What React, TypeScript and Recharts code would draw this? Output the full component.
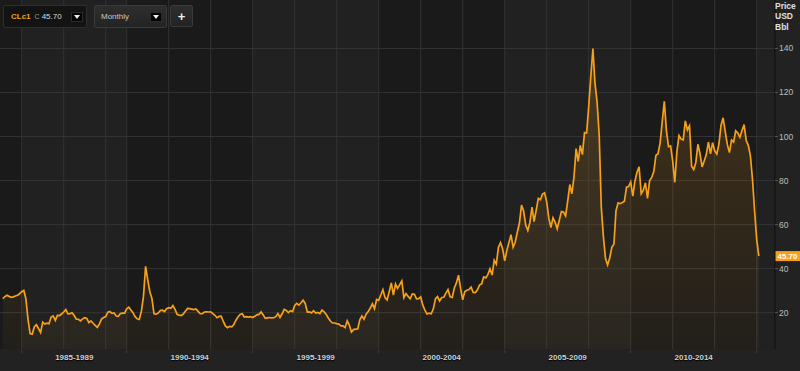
import React from 'react';
import { ComposedChart, Area, XAxis, YAxis, CartesianGrid, ReferenceLine } from 'recharts';

// CLc1 monthly closes, USD/bbl, one point per month (Jan 1985 .. Jan 2015)
const closes1985_1989 = [
  26.4, 27.3, 27.9, 27.4, 27.0, 27.2, 27.6, 27.9, 28.6, 29.5, 30.1, 26.3,
  17.0, 10.5, 10.2, 13.5, 14.5, 12.8, 11.0, 15.7, 14.8, 15.2, 15.0, 18.0,
  18.5, 16.5, 18.8, 18.7, 19.4, 20.3, 21.4, 19.5, 19.6, 20.0, 18.7, 17.0,
  17.0, 16.3, 17.2, 17.7, 17.4, 15.5, 16.3, 15.2, 14.2, 13.3, 14.9, 17.1,
  17.8, 18.2, 20.2, 20.5, 19.7, 19.9, 18.5, 18.3, 19.6, 19.8, 19.8, 21.8,
];
const closes1990_1994 = [
  22.5, 21.2, 20.0, 18.2, 17.2, 16.9, 20.7, 27.5, 41.0, 35.0, 29.5, 26.5,
  19.5, 19.3, 19.8, 21.0, 21.1, 20.5, 21.8, 22.3, 22.0, 23.2, 21.5, 19.2,
  18.9, 18.7, 19.4, 20.8, 21.9, 21.8, 21.6, 21.4, 21.7, 20.6, 19.5, 19.5,
  20.3, 20.4, 20.3, 20.4, 19.6, 18.8, 17.7, 18.3, 18.4, 16.0, 14.0, 13.2,
  13.8, 13.6, 14.6, 16.6, 18.0, 19.2, 19.5, 18.0, 18.2, 18.0, 18.2, 17.8,
];
const closes1995_1999 = [
  18.4, 19.0, 19.2, 20.3, 18.9, 17.4, 17.6, 17.8, 17.6, 17.7, 18.2, 19.6,
  17.8, 19.5, 21.5, 21.0, 20.0, 20.9, 20.5, 23.3, 24.2, 23.4, 24.5, 25.7,
  24.2, 20.3, 20.4, 19.9, 20.9, 19.8, 20.1, 19.6, 21.2, 20.4, 19.2, 17.6,
  16.2, 15.3, 15.3, 15.0, 14.8, 14.0, 14.0, 13.2, 16.3, 14.4, 11.2, 12.3,
  12.5, 12.6, 16.8, 18.5, 17.0, 19.3, 20.5, 22.1, 24.0, 21.8, 26.0, 25.6,
];
const closes2000_2004 = [
  28.0, 30.4, 26.9, 25.8, 29.5, 33.5, 28.0, 33.0, 31.0, 32.7, 34.4, 26.8,
  28.7, 27.4, 26.3, 28.5, 28.4, 26.3, 26.4, 27.2, 23.4, 21.2, 19.4, 19.8,
  19.5, 21.7, 26.3, 27.3, 25.3, 26.9, 27.0, 28.9, 30.5, 27.2, 26.9, 31.2,
  33.5, 37.0, 31.0, 25.8, 29.6, 30.2, 30.5, 31.6, 29.2, 29.1, 30.4, 32.5,
  33.1, 36.2, 35.8, 37.4, 39.9, 37.1, 43.8, 42.1, 49.6, 51.8, 49.1, 43.5,
];
const closes2005_2009 = [
  48.2, 51.8, 55.4, 49.7, 52.0, 56.5, 60.6, 68.9, 66.2, 59.8, 57.3, 61.0,
  67.9, 61.4, 66.6, 71.9, 71.3, 73.9, 74.4, 70.3, 62.9, 58.7, 63.1, 61.1,
  58.1, 62.0, 65.9, 65.7, 64.0, 70.7, 78.2, 74.0, 81.7, 94.5, 88.7, 96.0,
  91.8, 101.8, 101.6, 113.5, 127.4, 140.0, 124.1, 115.5, 100.6, 67.8, 54.4, 44.6,
  41.7, 44.8, 49.7, 51.1, 66.3, 69.9, 69.5, 70.0, 70.6, 77.0, 77.3, 79.4,
];
const closes2010_2015 = [
  72.9, 79.7, 83.8, 86.2, 74.0, 75.6, 79.0, 71.9, 80.0, 81.4, 84.1, 91.4,
  92.2, 97.0, 106.7, 116.0, 102.7, 95.4, 95.7, 88.8, 79.2, 93.2, 100.4, 98.8,
  98.5, 107.1, 103.0, 104.9, 86.5, 85.0, 88.1, 96.5, 92.2, 86.2, 88.9, 91.8,
  97.5, 92.1, 97.2, 93.5, 92.0, 96.6, 105.0, 108.5, 102.3, 96.4, 92.7, 98.4,
  97.5, 102.6, 101.6, 99.7, 102.7, 105.4, 98.2, 96.0, 91.2, 80.5, 66.2, 53.3,
  45.7,
];

const firstYear = 1985;
const lastClose = 45.7;

const bucketLabels = ['1985-1989', '1990-1994', '1995-1999', '2000-2004', '2005-2009', '2010-2014'];
const bucketCenters = [1987.92, 1992.5, 1997.5, 2002.5, 2007.5, 2012.5];
const bucketMarks = [1985.833, 1990, 1995, 2000, 2005, 2010, 2015];
const gridYears = [
  1985.833, 1987.5, 1989.167,
  1990, 1991.667, 1993.333, 1995, 1996.667, 1998.333, 2000, 2001.667, 2003.333,
  2005, 2006.667, 2008.333, 2010, 2011.667, 2013.333, 2015,
];
const priceTicks = [20, 40, 60, 80, 100, 120, 140];

const closes = [
  ...closes1985_1989, ...closes1990_1994, ...closes1995_1999,
  ...closes2000_2004, ...closes2005_2009, ...closes2010_2015,
];
// each monthly close sits at the end of its month
const data = closes.map((v, i) => ({ t: firstYear + (i + 1) / 12, close: v }));

const ORANGE = '#f7a01a';
const FONT = 'Arial, "Liberation Sans", sans-serif';

const XTick = (props: any) => {
  const { x, y, payload } = props;
  const idx = bucketCenters.indexOf(payload.value);
  if (idx >= 0) {
    return (
      <text x={x} y={y + 8.5} textAnchor="middle" dominantBaseline="central"
        fill="#cfcfcf" fontSize={8} fontWeight="bold" fontFamily={FONT}
        style={{ textShadow: '0 1px 1px #000' }}>
        {bucketLabels[idx]}
      </text>
    );
  }
  return <line x1={x} x2={x} y1={y + 1} y2={y + 4} stroke="#3c3c3c" />;
};

const PriceTag = (props: any) => {
  const vb = props.viewBox;
  if (!vb) return null;
  const left = vb.x + vb.width;
  return (
    <g>
      <rect x={left} y={vb.y - 5} width={25} height={10} fill={ORANGE} />
      <text x={left + 12.5} y={vb.y + 0.5} textAnchor="middle" dominantBaseline="central"
        fill="#fff" fontSize={8} fontWeight="bold" fontFamily={FONT}>
        {lastClose.toFixed(2)}
      </text>
    </g>
  );
};

const Caret = () => (
  <div style={{ width: 12, height: 10, background: '#050505', border: '1px solid #2a2a2a', display: 'flex', alignItems: 'center', justifyContent: 'center', boxSizing: 'border-box' }}>
    <div style={{ width: 0, height: 0, borderLeft: '3px solid transparent', borderRight: '3px solid transparent', borderTop: '4px solid #eee' }} />
  </div>
);

export default function App() {
  return (
    <div style={{ position: 'absolute', left: 0, top: 0, width: 800, height: 371, background: '#222', fontFamily: FONT, overflow: 'hidden' }}>
      <ComposedChart width={800} height={371} data={data} margin={{ top: 0, right: 0, left: 0, bottom: 0 }}>
        <defs>
          <linearGradient id="oilFill" x1="0" y1="0" x2="0" y2="1">
            <stop offset="0%" stopColor={ORANGE} stopOpacity={0.32} />
            <stop offset="100%" stopColor={ORANGE} stopOpacity={0.06} />
          </linearGradient>
        </defs>
        <CartesianGrid
          stroke="#333"
          verticalValues={gridYears}
          horizontalValues={priceTicks}
          verticalFill={['#1a1a1a', '#212121', '#212121', '#212121', '#1a1a1a', '#1a1a1a']}
          fillOpacity={1}
        />
        <XAxis
          type="number"
          dataKey="t"
          domain={[1984.972, 2015.726]}
          allowDataOverflow
          ticks={[...bucketMarks, ...bucketCenters].sort((a, b) => a - b)}
          interval={0}
          height={22}
          tickSize={0}
          tickMargin={0}
          axisLine={false}
          tickLine={false}
          tick={<XTick />}
        />
        <YAxis
          orientation="right"
          width={25}
          domain={[3.5, 162]}
          allowDataOverflow
          ticks={priceTicks}
          interval={0}
          axisLine={{ stroke: '#0e0e0e' }}
          tickLine={{ stroke: '#555' }}
          tickSize={3}
          tickMargin={1}
          tick={{ fill: '#bdbdbd', fontSize: 8.5, fontFamily: FONT, textAnchor: 'start' }}
        />
        <Area
          type="linear"
          dataKey="close"
          stroke={ORANGE}
          strokeWidth={1.7}
          fill="url(#oilFill)"
          dot={false}
          activeDot={false}
          isAnimationActive={false}
        />
        <ReferenceLine y={lastClose} stroke="none" strokeOpacity={0} label={<PriceTag />} />
      </ComposedChart>

      <div style={{ position: 'absolute', right: 2, top: 1, width: 23, color: '#e0e0e0', fontSize: 8.5, fontWeight: 'bold', lineHeight: '10.3px' }}>
        Price<br />USD<br />Bbl
      </div>

      <div style={{ position: 'absolute', left: 3, top: 5, width: 84, height: 23, boxSizing: 'border-box', background: '#131313', border: '1px solid #2e2e2e', borderRadius: 2, display: 'flex', alignItems: 'center' }}>
        <span style={{ marginLeft: 7, color: '#f2a01e', fontWeight: 'bold', fontSize: 8 }}>CLc1</span>
        <span style={{ marginLeft: 4, color: '#9a9a9a', fontSize: 7 }}>C</span>
        <span style={{ marginLeft: 2, color: '#dcdcdc', fontSize: 8 }}>45.70</span>
        <div style={{ marginLeft: 'auto', marginRight: 3 }}><Caret /></div>
      </div>

      <div style={{ position: 'absolute', left: 94, top: 5, width: 73, height: 23, boxSizing: 'border-box', background: 'linear-gradient(#2e2e2e, #232323)', border: '1px solid #3a3a3a', borderRadius: 2, display: 'flex', alignItems: 'center' }}>
        <span style={{ marginLeft: 6, color: '#c8c8c8', fontSize: 8 }}>Monthly</span>
        <div style={{ marginLeft: 'auto', marginRight: 4 }}><Caret /></div>
      </div>

      <div style={{ position: 'absolute', left: 170, top: 5, width: 23, height: 22, boxSizing: 'border-box', background: 'linear-gradient(#2e2e2e, #232323)', border: '1px solid #3a3a3a', borderRadius: 2, display: 'flex', alignItems: 'center', justifyContent: 'center', color: '#eee', fontWeight: 'bold', fontSize: 13, lineHeight: '13px' }}>
        +
      </div>
    </div>
  );
}
